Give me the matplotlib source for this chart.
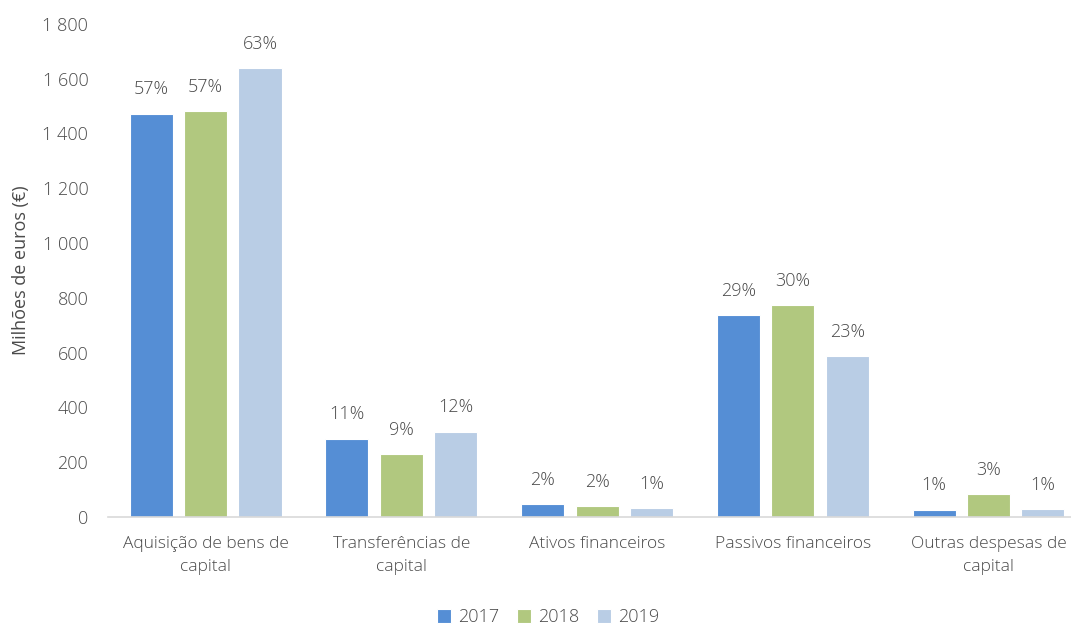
import numpy as np
import matplotlib.pyplot as plt
from matplotlib.ticker import FuncFormatter

plt.rcParams['font.family'] = ['Open Sans', 'DejaVu Sans']
plt.rcParams['font.weight'] = 'light'

categorias = ['Aquisição de bens de\ncapital', 'Transferências de\ncapital',
              'Ativos financeiros', 'Passivos financeiros',
              'Outras despesas de\ncapital']
anos = ['2017', '2018', '2019']
v2017 = [1472, 285, 47, 737, 26]
v2018 = [1482, 230, 40, 774, 84]
v2019 = [1638, 311, 33, 587, 28]
p2017 = ['57%', '11%', '2%', '29%', '1%']
p2018 = ['57%', '9%', '2%', '30%', '3%']
p2019 = ['63%', '12%', '1%', '23%', '1%']
cores = ['#558ed5', '#b1c87f', '#b9cde5']

texto = '#4a4a4a'
fig = plt.figure(figsize=(10.71, 6.28), dpi=100)
# o eixo continua um pouco além da margem direita
ax = fig.add_axes([0.1006, 0.177, 0.9137, 0.785])

x = np.arange(len(categorias))
larg = 0.22
passo = 0.278
for i, (vals, pct) in enumerate(zip([v2017, v2018, v2019], [p2017, p2018, p2019])):
    barras = ax.bar(x + (i - 1) * passo, vals, larg, color=cores[i],
                    edgecolor='white', linewidth=0.8, label=anos[i], zorder=2)
    for b, p in zip(barras, pct):
        ax.annotate(p, (b.get_x() + b.get_width() / 2, b.get_height()),
                    xytext=(0, 17.5), textcoords='offset points',
                    ha='center', va='center', fontsize=13, color=texto)

ax.set_xlim(-0.5, len(categorias) - 0.5)
ax.set_ylim(0, 1800)
ax.set_yticks(range(0, 1801, 200))
ax.yaxis.set_major_formatter(FuncFormatter(lambda v, _: f'{int(v):,}'.replace(',', ' ')))
ax.set_xticks(x)
ax.set_xticklabels(categorias, fontsize=12.5, color=texto, linespacing=1.55)
ax.tick_params(axis='y', labelsize=13, labelcolor=texto, length=0, pad=14)
ax.tick_params(axis='x', length=0, pad=14)
ax.set_ylabel('Milhões de euros (€)', fontsize=13, color=texto, labelpad=9)

for lado in ['top', 'right', 'left']:
    ax.spines[lado].set_visible(False)
ax.spines['bottom'].set_color('#d9d9d9')
ax.spines['bottom'].set_linewidth(1.2)

leg = fig.legend(loc='center', bbox_to_anchor=(0.512, 0.017), ncol=3,
                 frameon=False, fontsize=13, handlelength=0.75, handleheight=0.75,
                 handletextpad=0.4, columnspacing=1.0, borderpad=0.1)
for t in leg.get_texts():
    t.set_color(texto)

fig.savefig('out.png', dpi=100)
